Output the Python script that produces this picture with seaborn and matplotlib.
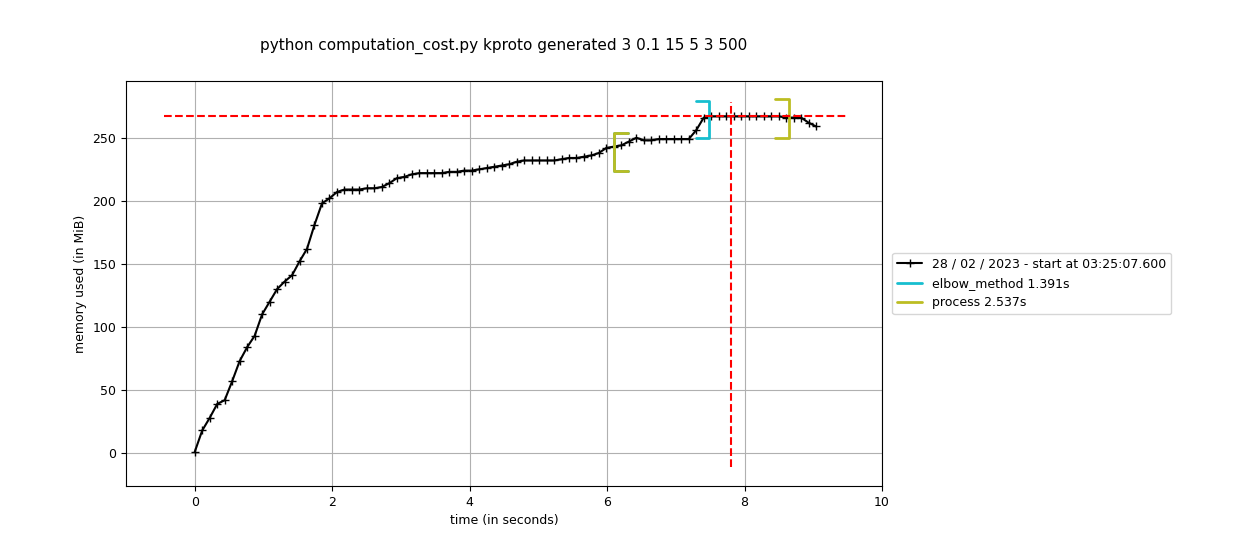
import numpy as np
import pandas as pd
import matplotlib
matplotlib.use("Agg")
import matplotlib.pyplot as plt
import seaborn as sns

# memory samples (MiB), one every ~0.111 s
mem = [1, 18, 28, 39, 42, 57, 73, 84, 93, 110, 120, 130, 136, 141, 152, 162, 181, 198,
       202, 207, 209, 209, 209, 210, 210, 211, 214, 218, 219, 221, 222, 222, 222, 222,
       223, 223, 224, 224, 225, 226, 227, 228, 229, 231, 232, 232, 232, 232, 232, 233,
       234, 234, 235, 236, 238, 242, 243, 244, 247, 250, 248, 248, 249, 249, 249, 249,
       249, 256, 266, 267, 267, 267, 267, 267, 267, 267, 267, 267, 267, 266, 266, 266,
       262, 259]
step = 9.04 / (len(mem) - 1)
times = [i * step for i in range(len(mem))]

# function brackets: name, start, end, (low, high) at start, (low, high) at end
func_names = ["elbow_method 1.391s", "process 2.537s"]
func_colors = ["#17becf", "#bcbd22"]
func_start = [6.10, 6.10]
func_end = [7.49, 8.64]
start_span = [(224, 254), (224, 254)]
end_span = [(250, 279), (250, 281)]

peak_mem = 267
peak_time = 7.80

df = pd.DataFrame({"time": times, "mem": mem})

sns.set_style("ticks")
plt.rcParams.update({"text.color": "black", "axes.labelcolor": "black",
                     "xtick.color": "black", "ytick.color": "black"})
fig = plt.figure(figsize=(12.6, 5.4), dpi=100)
ax = fig.add_axes([0.1, 0.1, 0.6, 0.75])

sns.lineplot(data=df, x="time", y="mem", ax=ax, color="black", marker="+",
             markersize=6, markeredgecolor="black", markeredgewidth=1,
             label="28 / 02 / 2023 - start at 03:25:07.600")

tick = 0.2
for name, c, ts, te, ss, es in zip(func_names, func_colors, func_start, func_end,
                                    start_span, end_span):
    ax.plot([ts + tick, ts, ts, ts + tick], [ss[0], ss[0], ss[1], ss[1]],
            color=c, lw=2, label=name)
    ax.plot([te - tick, te, te, te - tick], [es[0], es[0], es[1], es[1]],
            color=c, lw=2)

ax.hlines(peak_mem, -0.45, 9.5, colors="red", linestyles="--", lw=1.5)
ax.vlines(peak_time, -11, 278, colors="red", linestyles="--", lw=1.5)

ax.set_xlim(-1, 10)
ax.set_ylim(-26, 295)
ax.set_xticks(range(0, 11, 2))
ax.set_yticks(range(0, 251, 50))
ax.tick_params(labelsize=9)
ax.grid(True, color="#b0b0b0", lw=0.8)
ax.set_xlabel("time (in seconds)", fontsize=9)
ax.set_ylabel("memory used (in MiB)", fontsize=9)
for s in ax.spines.values():
    s.set_color("black")
fig.text(0.4, 0.9, "python computation_cost.py kproto generated 3 0.1 15 5 3 500",
         ha="center", va="bottom", fontsize=11)
ax.legend(loc="center left", bbox_to_anchor=(1.005, 0.5), frameon=True, fontsize=9)

fig.savefig("out.png", dpi=100)
